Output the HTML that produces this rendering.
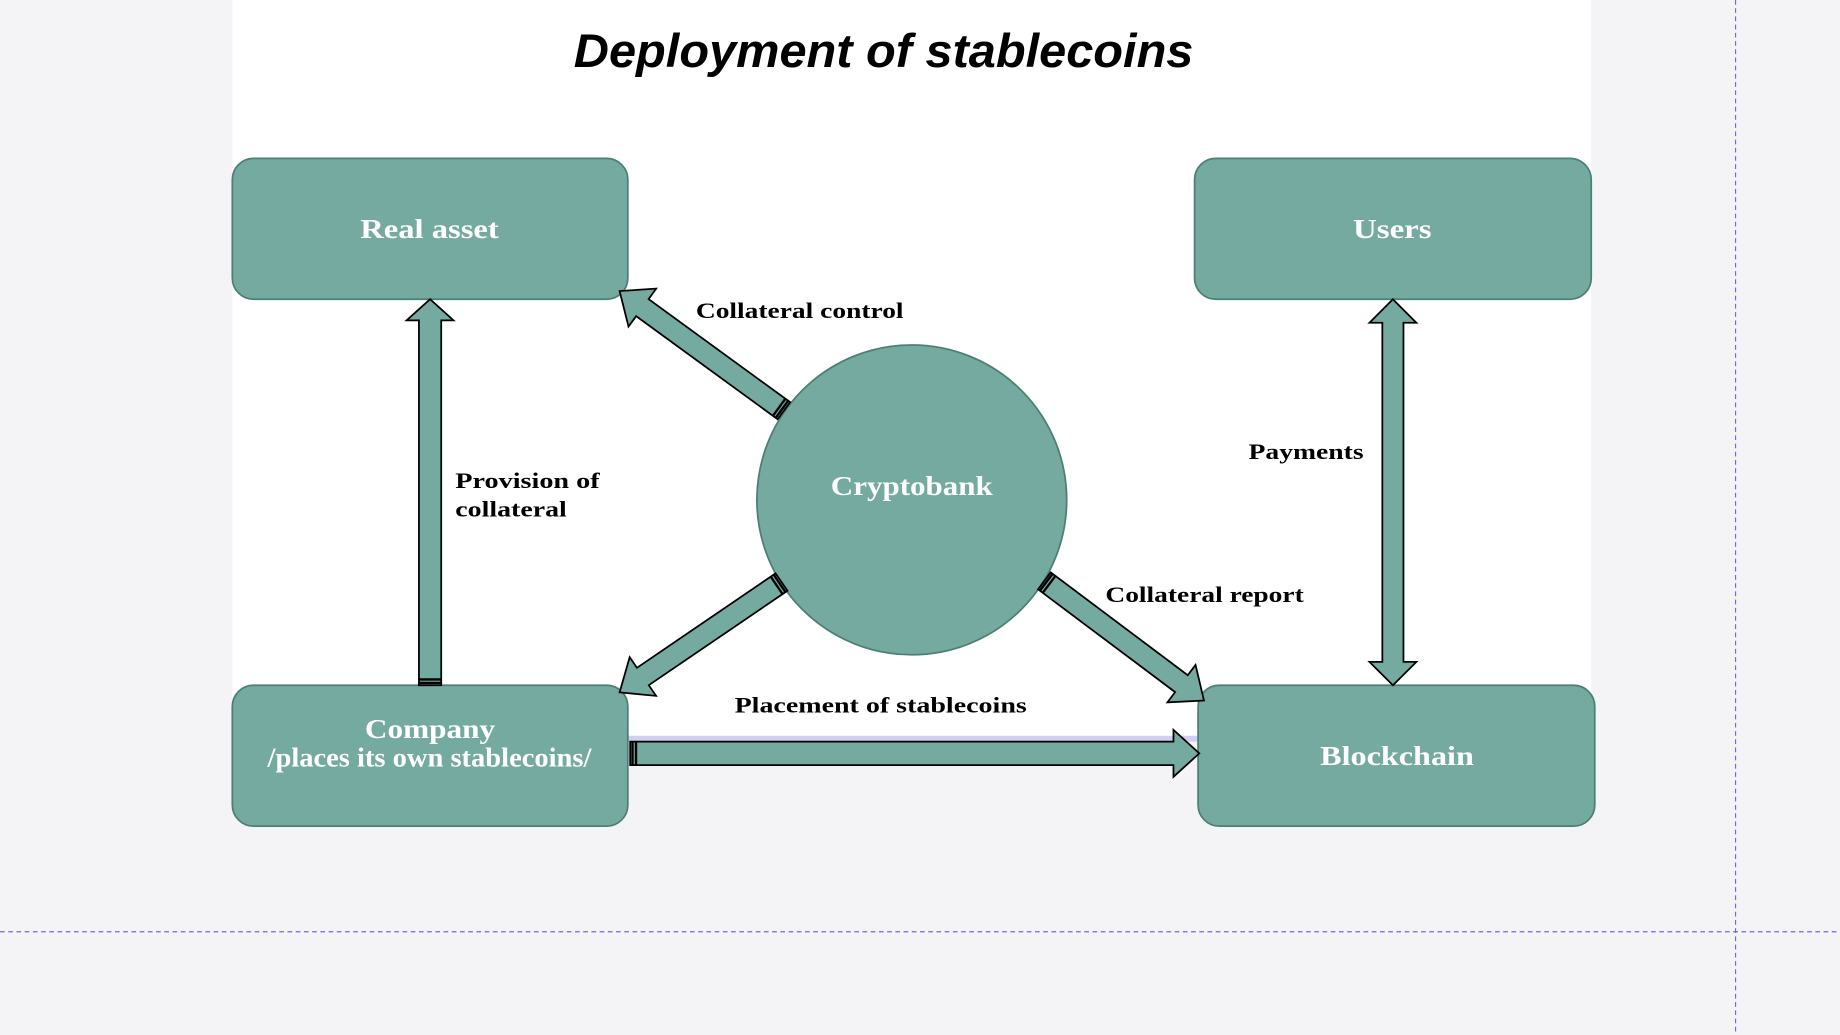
<!DOCTYPE html>
<html><head><meta charset="utf-8"><style>
html,body{margin:0;padding:0;background:#f4f4f6;}
svg{display:block;}
.lbl{font-family:"Liberation Serif",serif;font-weight:bold;font-size:19px;fill:#000;}
.box{font-family:"Liberation Serif",serif;font-weight:bold;font-size:23px;fill:#fff;}
</style></head><body>
<svg id="s" width="1840" height="1035" viewBox="0 0 1568 882" preserveAspectRatio="none" xmlns="http://www.w3.org/2000/svg">
<rect x="0" y="0" width="1568" height="882" fill="#f4f4f6"/>
<rect x="198" y="0" width="1158" height="628" fill="#ffffff"/>
<rect x="535" y="627" width="487" height="5" fill="#cfcff0"/>
<line x1="0" y1="794" x2="1568" y2="794" stroke="#6a6ae0" stroke-width="1" stroke-dasharray="4,3"/>
<line x1="1479" y1="0" x2="1479" y2="882" stroke="#6a6ae0" stroke-width="1" stroke-dasharray="4,3"/>
<text x="753" y="57" text-anchor="middle" font-family="Liberation Sans, sans-serif" font-weight="bold" font-style="italic" font-size="40" textLength="528" lengthAdjust="spacingAndGlyphs">Deployment of stablecoins</text>
<g fill="#75aaa0" stroke="#4d7f75" stroke-width="1.5">
<rect x="198" y="135" width="337" height="120" rx="18"/>
<rect x="1018" y="135" width="338" height="120" rx="18"/>
<rect x="198" y="584" width="337" height="120" rx="18"/>
<rect x="1021" y="584" width="338" height="120" rx="18"/>
<circle cx="777" cy="426" r="132"/>
</g>
<g id="arrows" fill="#75aaa0" stroke="#000" stroke-width="1.5" stroke-linejoin="miter"></g>
<text class="box" x="307" y="203" textLength="118" lengthAdjust="spacingAndGlyphs">Real asset</text>
<text class="box" x="1153" y="203" textLength="67" lengthAdjust="spacingAndGlyphs">Users</text>
<text class="box" x="311" y="629" textLength="111" lengthAdjust="spacingAndGlyphs">Company</text>
<text class="box" x="228" y="653" font-size="20" textLength="276" lengthAdjust="spacingAndGlyphs">/places its own stablecoins/</text>
<text class="box" x="1125" y="652" textLength="131" lengthAdjust="spacingAndGlyphs">Blockchain</text>
<text class="box" x="708" y="422" textLength="138" lengthAdjust="spacingAndGlyphs">Cryptobank</text>
<text class="lbl" x="593" y="271" textLength="177" lengthAdjust="spacingAndGlyphs">Collateral control</text>
<text class="lbl" x="388" y="416" textLength="123" lengthAdjust="spacingAndGlyphs">Provision of</text>
<text class="lbl" x="388" y="440" textLength="95" lengthAdjust="spacingAndGlyphs">collateral</text>
<text class="lbl" x="1064" y="391" textLength="98" lengthAdjust="spacingAndGlyphs">Payments</text>
<text class="lbl" x="942" y="513" textLength="169" lengthAdjust="spacingAndGlyphs">Collateral report</text>
<text class="lbl" x="626" y="607" textLength="249" lengthAdjust="spacingAndGlyphs">Placement of stablecoins</text>
</svg>
<script>
function arrow(x1,y1,x2,y2,sw,hw,hl,dbl){
  var dx=x2-x1,dy=y2-y1,L=Math.hypot(dx,dy),ux=dx/L,uy=dy/L,nx=-uy,ny=ux;
  function p(t,o){return (x1+ux*t+nx*o).toFixed(1)+","+(y1+uy*t+ny*o).toFixed(1);}
  var s=sw/2,h=hw/2,pts=[];
  if(dbl){pts=[p(0,0),p(hl,h),p(hl,s),p(L-hl,s),p(L-hl,h),p(L,0),p(L-hl,-h),p(L-hl,-s),p(hl,-s),p(hl,-h)];}
  else{pts=[p(0,s),p(L-hl,s),p(L-hl,h),p(L,0),p(L-hl,-h),p(L-hl,-s),p(0,-s)];}
  var g=document.getElementById("arrows");
  var pg=document.createElementNS("http://www.w3.org/2000/svg","polygon");
  pg.setAttribute("points",pts.join(" "));g.appendChild(pg);
  if(!dbl){
    for(var k=0;k<2;k++){
      var ln=document.createElementNS("http://www.w3.org/2000/svg","line");
      var t=2+k*3;
      var a=p(t,s).split(","),b=p(t,-s).split(",");
      ln.setAttribute("x1",a[0]);ln.setAttribute("y1",a[1]);ln.setAttribute("x2",b[0]);ln.setAttribute("y2",b[1]);
      ln.setAttribute("stroke-width","2");g.appendChild(ln);
    }
  }
}
arrow(366.5,584,366.5,255,19,40,18,false);
arrow(1187,255,1187,584,18,40,20,true);
arrow(537,642,1022,642,20,40,22,false);
arrow(668,350,528,248,18,40,24,false);
arrow(666,496,528,590,18,40,24,false);
arrow(890,495,1026,597,18,40,24,false);
</script>
</body></html>
